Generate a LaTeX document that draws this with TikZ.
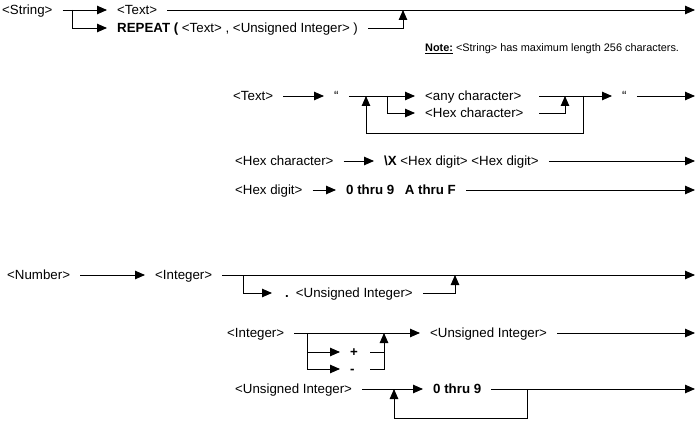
\documentclass[tikz,border=0pt]{standalone}
\usepackage{fontspec}
\setmainfont{Liberation Sans}
\usepackage{tikz}
\usetikzlibrary{arrows.meta, positioning}
\newcommand{\diagfont}{\fontsize{13.3pt}{16pt}\selectfont}
\newcommand{\notefont}{\fontsize{10.9pt}{13pt}\selectfont}
\begin{document}
\begin{tikzpicture}[
    x=1pt, y=-1pt,
    line/.style={draw=black, line width=0.9pt},
    arrow/.style={line, -{Triangle[length=10pt, width=8.5pt]}},
    term/.style={font=\diagfont, anchor=west, inner xsep=10pt, inner ysep=0pt, text height=9.5pt, text depth=0pt},
    note/.style={font=\notefont, anchor=west, inner sep=0pt}
]
    \useasboundingbox (0,0) rectangle (697,428);

    % String: plain text or repeated text
    \node[term] (string) at (-8,10) {<String>};
    \coordinate (sfork) at (72,10);
    \node[term] (text1) at (107,10) {<Text>};
    \node[term] (repeat) at (107,28) {\textbf{REPEAT (} <Text> , <Unsigned Integer> )};
    \coordinate (sjoin) at (403,10);
    \coordinate (send) at (695,10);
    \draw[line] (string) -- (sfork);
    \draw[arrow] (sfork) -- (text1);
    \draw[arrow] (sfork) |- (repeat);
    \draw[arrow] (text1) -- (send);
    \draw[arrow] (repeat) -| (sjoin);
    \node[note] (note) at (425,49) {\underline{\textbf{Note:}} <String> has maximum length 256 characters.};

    % Text: quoted characters
    \node[term] (text2) at (223,96) {<Text>};
    \node[term] (lquote) at (324,96) {“};
    \coordinate (tloop) at (366,96);
    \coordinate (tfork) at (387,96);
    \node[term] (anychar) at (415,96) {<any character>};
    \node[term] (hexchar) at (415,113) {<Hex character>};
    \coordinate (anyend) at (539,96);
    \coordinate (hexend) at (539,113);
    \coordinate (tjoin) at (565,96);
    \coordinate (tout) at (583,96);
    \coordinate (tback) at (366,133);
    \node[term] (rquote) at (612,96) {“};
    \coordinate (tend) at (695,96);
    \draw[arrow] (text2) -- (lquote);
    \draw[line] (lquote) -- (tfork);
    \draw[arrow] (tfork) -- (anychar);
    \draw[arrow] (tfork) |- (hexchar);
    \draw[arrow] (anyend) -- (rquote);
    \draw[arrow] (hexend) -| (tjoin);
    \draw[arrow] (tout) |- (tback) -- (tloop);
    \draw[arrow] (rquote) -- (tend);

    % Hex character
    \node[term] (hexchar2) at (225,161) {<Hex character>};
    \node[term] (hexseq) at (374,161) {\textbf{\textbackslash X} <Hex digit> <Hex digit>};
    \coordinate (hend) at (695,161);
    \draw[arrow] (hexchar2) -- (hexseq);
    \draw[arrow] (hexseq) -- (hend);

    % Hex digit
    \node[term] (hexdigit) at (225,190) {<Hex digit>};
    \node[term] (hexrange) at (336,190) {\textbf{0 thru 9\hspace{0.8em}A thru F}};
    \coordinate (dend) at (695,190);
    \draw[arrow] (hexdigit) -- (hexrange);
    \draw[arrow] (hexrange) -- (dend);

    % Number: integer with optional fraction
    \node[term] (number) at (-3,275) {<Number>};
    \node[term] (integer) at (145,275) {<Integer>};
    \coordinate (nfork) at (243,275);
    \node[term] (fraction) at (272,293) {\hspace{3pt}\textbf{.}\hspace{7pt}<Unsigned Integer>};
    \coordinate (njoin) at (455,275);
    \coordinate (nend) at (695,275);
    \draw[arrow] (number) -- (integer);
    \draw[arrow] (integer) -- (nend);
    \draw[arrow] (nfork) |- (fraction);
    \draw[arrow] (fraction) -| (njoin);

    % Integer: optional sign
    \node[term] (integer2) at (217,333) {<Integer>};
    \coordinate (ifork) at (307,333);
    \node[term] (plus) at (340,352) {\textbf{+}};
    \node[term] (minus) at (340,369) {\textbf{-}};
    \coordinate (plusend) at (370,352);
    \coordinate (minusend) at (370,369);
    \coordinate (ijoin) at (384,333);
    \node[term] (uint) at (420,333) {<Unsigned Integer>};
    \coordinate (iend) at (695,333);
    \draw[arrow] (integer2) -- (uint);
    \draw[arrow] (ifork) |- (plus);
    \draw[arrow] (ifork) |- (minus);
    \draw[line] (plusend) -- (plusend -| ijoin);
    \draw[arrow] (minusend) -| (ijoin);
    \draw[arrow] (uint) -- (iend);

    % Unsigned Integer: repeated digits
    \node[term] (uint2) at (225,389) {<Unsigned Integer>};
    \coordinate (uloop) at (394,389);
    \node[term] (digits) at (423,389) {\textbf{0 thru 9}};
    \coordinate (uout) at (527,389);
    \coordinate (uback) at (394,418);
    \coordinate (uend) at (695,389);
    \draw[arrow] (uint2) -- (digits);
    \draw[arrow] (digits) -- (uend);
    \draw[arrow] (uout) |- (uback) -- (uloop);
\end{tikzpicture}
\end{document}
